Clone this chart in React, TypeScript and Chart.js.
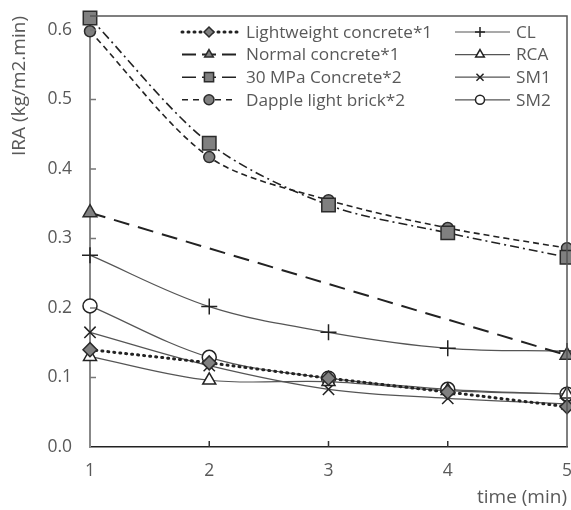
import React, { useEffect, useRef } from "react";
import { Chart, registerables } from "chart.js";
import { drawPoint } from "chart.js/helpers";

Chart.register(...registerables);

const times = [1, 2, 3, 4, 5];
const lightweight = [0.14, 0.121, 0.099, 0.079, 0.058];
const normal = [0.337, null, null, null, 0.132];
const mpa30 = [0.617, 0.437, 0.348, 0.308, 0.273];
const dapple = [0.598, 0.417, 0.355, 0.315, 0.286];
const cl = [0.276, 0.202, 0.165, 0.142, 0.138];
const rca = [0.13, 0.096, 0.094, 0.081, 0.076];
const sm1 = [0.165, 0.117, 0.083, 0.07, 0.062];
const sm2 = [0.203, 0.129, 0.099, 0.083, 0.076];
const yTicks = [0, 0.1, 0.2, 0.3, 0.4, 0.5, 0.6];

const FONT = "'Open Sans', Lato, sans-serif";
const TICK_FS = 17.5;
const TITLE_FS = 19;
const LEG_FS = 17.2;
const TXT = "#595959";

const toXY = (vals: (number | null)[]) => times.map((t, i) => ({ x: t, y: vals[i] }));

const legendPlugin = {
  id: "customLegend",
  afterDraw(chart: any) {
    const ctx = chart.ctx;
    ctx.save();
    chart.data.datasets.forEach((ds: any, i: number) => {
      const col = i < 4 ? 0 : 1;
      const row = i % 4;
      const y = 32 + row * 22.6;
      const x0 = col === 0 ? 182 : 455;
      const x1 = col === 0 ? 237 : 510;
      const mx = col === 0 ? 209 : 480;
      ctx.strokeStyle = ds.borderColor;
      ctx.lineWidth = ds.borderWidth;
      ctx.setLineDash(ds.legendDash || ds.borderDash || []);
      ctx.lineCap = ds.borderCapStyle || "butt";
      ctx.beginPath();
      ctx.moveTo(x0, y);
      ctx.lineTo(x1, y);
      ctx.stroke();
      ctx.setLineDash([]);
      ctx.fillStyle = ds.pointBackgroundColor;
      ctx.strokeStyle = ds.pointBorderColor;
      ctx.lineWidth = ds.pointBorderWidth;
      drawPoint(ctx, { pointStyle: ds.pointStyle, radius: ds.legendRadius, rotation: 0, borderWidth: ds.pointBorderWidth }, mx, y);
      ctx.fillStyle = TXT;
      ctx.font = `${LEG_FS}px ${FONT}`;
      ctx.textAlign = "left";
      ctx.textBaseline = "middle";
      ctx.fillText(ds.label, col === 0 ? 246 : 516, y + 1);
    });
    ctx.restore();
  },
};

const framePlugin = {
  id: "frame",
  afterDatasetsDraw(chart: any) {
    const { ctx, chartArea: a, scales } = chart;
    ctx.save();
    ctx.strokeStyle = "#555";
    ctx.lineWidth = 1.5;
    ctx.beginPath();
    ctx.moveTo(a.left, a.top);
    ctx.lineTo(a.right, a.top);
    ctx.lineTo(a.right, a.bottom);
    ctx.stroke();
    ctx.strokeStyle = "#777";
    ctx.lineWidth = 1.5;
    ctx.beginPath();
    yTicks.forEach((v) => {
      if (v === 0) return;
      const py = scales.y.getPixelForValue(v);
      ctx.moveTo(a.left, py);
      ctx.lineTo(a.left + 6, py);
    });
    ctx.stroke();
    ctx.strokeStyle = "#333";
    ctx.beginPath();
    times.forEach((t) => {
      if (t === times[0] || t === times[times.length - 1]) return;
      const px = scales.x.getPixelForValue(t);
      ctx.moveTo(px, a.bottom);
      ctx.lineTo(px, a.bottom - 6);
    });
    ctx.stroke();
    ctx.restore();
  },
};

export default function App() {
  const ref = useRef<HTMLCanvasElement>(null);
  useEffect(() => {
    document.body.style.margin = "0";
    document.documentElement.style.overflow = "hidden";
    const gray = "#808080";
    const dark = "#2b2b2b";
    const thin = "#555";
    const chart = new Chart(ref.current!, {
      type: "line",
      data: {
        datasets: [
          {
            label: "Lightweight concrete*1",
            data: toXY(lightweight),
            borderColor: "#222",
            borderWidth: 3,
            borderDash: [1, 5],
            borderCapStyle: "round",
            legendDash: [1, 5],
            pointStyle: "rectRot",
            radius: 7,
            legendRadius: 5,
            pointBackgroundColor: gray,
            pointBorderColor: dark,
            pointBorderWidth: 1.5,
            tension: 0.3,
          } as any,
          {
            label: "Normal concrete*1",
            data: toXY(normal),
            spanGaps: true,
            borderColor: "#222",
            borderWidth: 2,
            borderDash: [16, 9],
            legendDash: [14, 6],
            pointStyle: "triangle",
            radius: 8,
            legendRadius: 5,
            pointBackgroundColor: gray,
            pointBorderColor: dark,
            pointBorderWidth: 1.5,
            tension: 0,
          } as any,
          {
            label: "30 MPa Concrete*2",
            data: toXY(mpa30),
            borderColor: "#222",
            borderWidth: 1.6,
            borderDash: [9, 4, 2, 4],
            legendDash: [14, 6],
            pointStyle: "rect",
            radius: 9.5,
            legendRadius: 6.5,
            pointBackgroundColor: gray,
            pointBorderColor: dark,
            pointBorderWidth: 1.5,
            tension: 0.3,
          } as any,
          {
            label: "Dapple light brick*2",
            data: toXY(dapple),
            borderColor: "#222",
            borderWidth: 1.6,
            borderDash: [6, 4],
            legendDash: [6, 5],
            pointStyle: "circle",
            radius: 5.5,
            legendRadius: 5,
            pointBackgroundColor: gray,
            pointBorderColor: dark,
            pointBorderWidth: 1.5,
            tension: 0.3,
          } as any,
          {
            label: "CL",
            data: toXY(cl),
            borderColor: thin,
            borderWidth: 1.2,
            pointStyle: "cross",
            radius: 8,
            legendRadius: 5,
            pointBackgroundColor: "#fff",
            pointBorderColor: "#222",
            pointBorderWidth: 1.5,
            tension: 0.35,
          } as any,
          {
            label: "RCA",
            data: toXY(rca),
            borderColor: thin,
            borderWidth: 1.2,
            pointStyle: "triangle",
            radius: 7.5,
            legendRadius: 5,
            pointBackgroundColor: "#fff",
            pointBorderColor: "#222",
            pointBorderWidth: 1.5,
            tension: 0.35,
          } as any,
          {
            label: "SM1",
            data: toXY(sm1),
            borderColor: thin,
            borderWidth: 1.2,
            pointStyle: "crossRot",
            radius: 8,
            legendRadius: 5,
            pointBackgroundColor: "#fff",
            pointBorderColor: "#222",
            pointBorderWidth: 1.5,
            tension: 0.35,
          } as any,
          {
            label: "SM2",
            data: toXY(sm2),
            borderColor: thin,
            borderWidth: 1.2,
            pointStyle: "circle",
            radius: 7,
            legendRadius: 4.5,
            pointBackgroundColor: "#fff",
            pointBorderColor: "#222",
            pointBorderWidth: 1.5,
            tension: 0.35,
          } as any,
        ].map((d: any) => ({ ...d, clip: false, pointRadius: d.radius, pointHoverRadius: d.radius, fill: false })),
      },
      options: {
        animation: false,
        responsive: false,
        layout: { autoPadding: false, padding: { top: 16, right: 4, left: 0, bottom: 0 } },
        plugins: { legend: { display: false }, tooltip: { enabled: false } },
        scales: {
          x: {
            type: "linear",
            min: times[0],
            max: times[times.length - 1],
            afterBuildTicks: (s: any) => {
              s.ticks = times.map((t) => ({ value: t }));
            },
            afterFit: (s: any) => {
              s.height = 63;
              s.paddingLeft = 0;
              s.paddingRight = 0;
            },
            grid: { display: false, drawTicks: false },
            border: { display: true, color: "#222", width: 1.5 },
            ticks: { color: TXT, font: { family: FONT, size: TICK_FS }, padding: 14, callback: (v: any) => String(v) },
            title: { display: true, text: "time (min)", align: "end", color: TXT, font: { family: FONT, size: TITLE_FS }, padding: { top: 0, bottom: 1.5 } },
          },
          y: {
            type: "linear",
            min: 0,
            max: 0.62,
            afterBuildTicks: (s: any) => {
              s.ticks = yTicks.map((v) => ({ value: v }));
            },
            afterFit: (s: any) => {
              s.width = 90;
              s.paddingTop = 0;
              s.paddingBottom = 0;
            },
            grid: { display: false, drawTicks: false },
            border: { display: true, color: "#888", width: 2 },
            ticks: { color: TXT, font: { family: FONT, size: TICK_FS }, padding: 18, callback: (v: any) => Number(v).toFixed(1) },
            title: { display: true, text: "IRA (kg/m2.min)", align: "end", color: TXT, font: { family: FONT, size: TITLE_FS }, padding: { top: 8, bottom: 0 } },
          },
        },
      },
      plugins: [framePlugin, legendPlugin],
    });
    return () => chart.destroy();
  }, []);
  return (
    <div style={{ width: 571, height: 510, position: "relative" }}>
      <canvas ref={ref} width={571} height={510} style={{ display: "block" }} />
    </div>
  );
}
